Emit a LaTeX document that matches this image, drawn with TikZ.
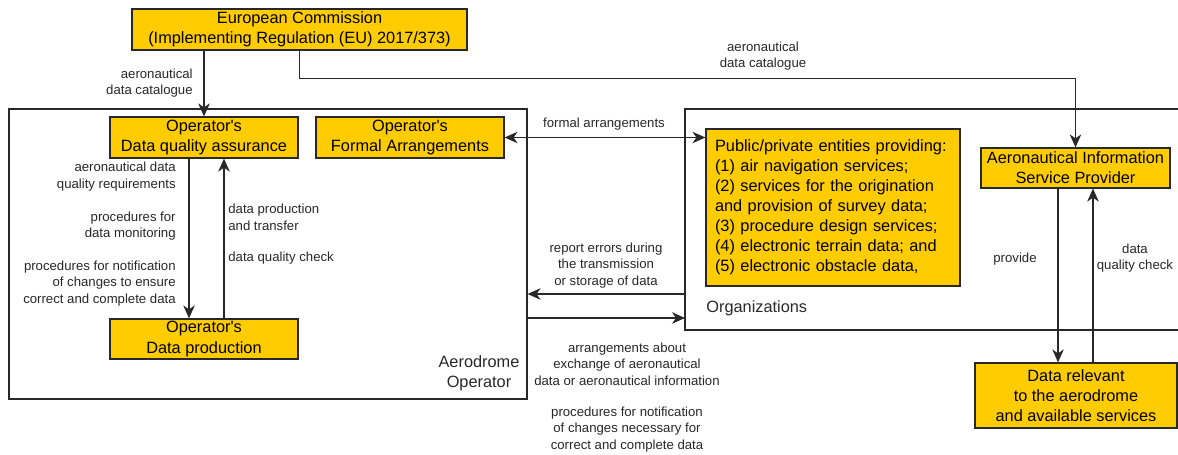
\documentclass[tikz,border=0pt]{standalone}
\usepackage{fontspec}
\setmainfont{Liberation Sans}
\usepackage{tikz}
\usetikzlibrary{arrows.meta, positioning, calc}
\definecolor{cBox}{RGB}{255,204,0}
\definecolor{cLine}{RGB}{40,40,40}
\newcommand{\opname}{Operator\textquotesingle s}
\tikzset{
	box/.style      ={rectangle, draw=cLine, line width=0.7pt, fill=cBox, align=center, inner sep=1pt, font=\fontsize{9.3}{11.4}\selectfont},
	frame/.style    ={rectangle, draw=cLine, line width=0.7pt},
	frametext/.style={inner sep=0pt, align=center, font=\fontsize{9.3}{11.4}\selectfont, text=cLine},
	lbl/.style      ={inner sep=0pt, align=center, font=\fontsize{7.5}{9.5}\selectfont, text=cLine},
	flowarrow/.style={-{Stealth[length=2.6mm, width=2.3mm, inset=0.8mm]}, line width=0.6pt, draw=cLine},
	twoway/.style   ={{Stealth[length=2.6mm, width=2.3mm, inset=0.8mm]}-{Stealth[length=2.6mm, width=2.3mm, inset=0.8mm]}, line width=0.6pt, draw=cLine},
}
\begin{document}
\begin{tikzpicture}[x=0.02cm, y=-0.02cm]
	\useasboundingbox (0,0) rectangle (1178,455);
	% frames
	\node[frame, minimum width=10.36cm, minimum height=5.8cm] (aero) at (268,254) {};
	\node[frametext] (aerotxt) at (479,373) {Aerodrome\\Operator};
	\coordinate (orgNW) at (685,109);
	\coordinate (orgSW) at (685,330);
	\draw[cLine, line width=0.7pt] (1178,109) -- (orgNW) -- (orgSW) -- (1178,330);
	\node[frametext, anchor=west] (orgtxt) at (706,308) {Organizations};
	% boxes
	\node[box, minimum width=6.7cm, minimum height=0.82cm] (ec) at (299.5,29.5) {European Commission\\(Implementing Regulation (EU) 2017/373)};
	\node[box, minimum width=3.76cm, minimum height=0.82cm] (dqa) at (204,137.5) {\opname\\Data quality assurance};
	\node[box, minimum width=3.76cm, minimum height=0.82cm] (ofa) at (410,137.5) {\opname\\Formal Arrangements};
	\node[box, minimum width=3.76cm, minimum height=0.8cm] (dp) at (204,339) {\opname\\Data production};
	\node[box, align=left, text width=4.72cm, inner xsep=0.18cm, minimum height=3.14cm] (ent) at (833,207.5) {Public/private entities providing:\\(1) air navigation services;\\(2) services for the origination\\and provision of survey data;\\(3) procedure design services;\\(4) electronic terrain data; and\\(5) electronic obstacle data,};
	\node[box, minimum width=3.78cm, minimum height=0.8cm] (ais) at (1075.5,168) {Aeronautical Information\\Service Provider};
	\node[box, minimum width=4.04cm, minimum height=1.3cm] (drel) at (1076,395.5) {Data relevant\\to the aerodrome\\and available services};
	% connectors
	\draw[flowarrow] (dqa.north |- ec.south) -- (dqa.north);
	\draw[flowarrow] (ec.south) -- ++(0,28) -| (ais.north);
	\draw[twoway] (ofa.east) -- (ofa.east -| ent.west);
	\draw[flowarrow] ([xshift=-0.3cm]dqa.south) -- ([xshift=-0.3cm]dp.north);
	\draw[flowarrow] ([xshift=0.4cm]dp.north) -- ([xshift=0.4cm]dqa.south);
	\coordinate (errR) at (685,294);
	\coordinate (arrL) at (527,318);
	\draw[flowarrow] (errR) -- (errR -| aero.east);
	\draw[flowarrow] (arrL) -- (arrL -| orgSW);
	\draw[flowarrow] ([xshift=-0.35cm]ais.south) -- ([xshift=-0.35cm]ais.south |- drel.north);
	\draw[flowarrow] ([xshift=0.35cm]ais.south |- drel.north) -- ([xshift=0.35cm]ais.south);
	% labels
	\node[lbl, anchor=east, align=right] (catL) at (193,83) {aeronautical\\data catalogue};
	\node[lbl] (catR) at (763,56) {aeronautical\\data catalogue};
	\node[lbl] (formal) at (604,124) {formal arrangements};
	\node[lbl, anchor=east, align=right] (req) at (176,176.5) {aeronautical data\\quality requirements};
	\node[lbl, anchor=east, align=right] (mon) at (176,226) {procedures for\\data monitoring};
	\node[lbl, anchor=east, align=right] (notif) at (176,283.5) {procedures for notification\\of changes to ensure~\\correct and complete data};
	\node[lbl, anchor=west, align=left] (prod) at (228,217.5) {data production\\and transfer};
	\node[lbl, anchor=west] (check) at (228,258) {data quality check};
	\node[lbl] (errors) at (606,265.5) {report errors during\\the transmission\\or storage of data};
	\node[lbl] (arrange) at (627,364) {arrangements about\\exchange of aeronautical\\data or aeronautical information};
	\node[lbl] (notif2) at (627,429.5) {procedures for notification\\of changes necessary for\\correct and complete data};
	\node[lbl] (provide) at (1015,259) {provide};
	\node[lbl] (aischeck) at (1135,258) {data\\quality check};
\end{tikzpicture}
\end{document}
